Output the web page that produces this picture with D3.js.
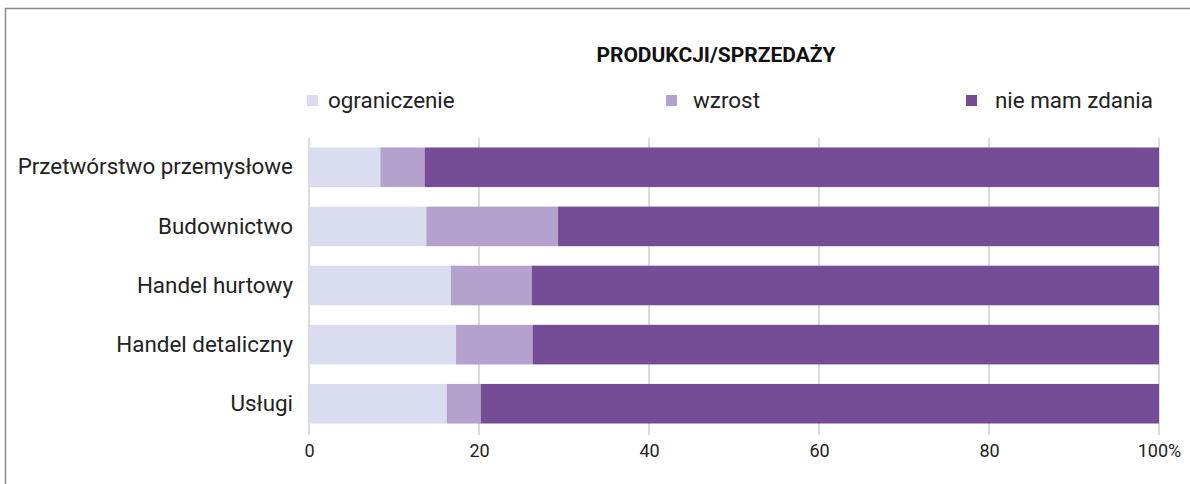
<!DOCTYPE html>
<html>
<head>
<meta charset="utf-8">
<script src="https://cdn.jsdelivr.net/npm/d3@7"></script>
<style>
  body { margin: 0; background: #fff; }
  svg { display: block; }
</style>
</head>
<body>
<svg id="chart"></svg>
<script>
var categories = ['Przetwórstwo przemysłowe', 'Budownictwo', 'Handel hurtowy', 'Handel detaliczny', 'Usługi'];
var seriesNames = ['ograniczenie', 'wzrost', 'nie mam zdania'];
var ograniczenie = [8.4, 13.8, 16.7, 17.3, 16.2];
var wzrost = [5.2, 15.5, 9.5, 9.0, 4.0];
var nieMamZdania = [86.4, 70.7, 73.8, 73.7, 79.8];
var xTicks = [0, 20, 40, 60, 80, 100];
var title = 'PRODUKCJI/SPRZEDAŻY';

var colors = ['#dadcf0', '#b4a1cd', '#754d97'];
var font = 'Roboto, "Noto Sans", sans-serif';

function drawChart() {
  var svgWidth = 1190, svgHeight = 484;
  var margin = { top: 138, right: 31, bottom: 51, left: 309 };
  var width = svgWidth - margin.left - margin.right;
  var height = svgHeight - margin.top - margin.bottom;

  var svg = d3.select('#chart')
    .attr('width', svgWidth)
    .attr('height', svgHeight);

  // frame (only top and left edges visible)
  svg.append('path')
    .attr('d', 'M5.5,' + svgHeight + 'V8.5H' + svgWidth)
    .attr('fill', 'none')
    .attr('stroke', '#8a8a8a')
    .attr('stroke-width', 1.5);

  var rows = categories.map(function(c, i) {
    return { cat: c, 'ograniczenie': ograniczenie[i], 'wzrost': wzrost[i], 'nie mam zdania': nieMamZdania[i] };
  });
  var stacked = d3.stack().keys(seriesNames)(rows);

  var x = d3.scaleLinear().domain([0, 100]).range([0, width]);
  var y = d3.scaleBand().domain(categories).range([0, height]).paddingInner(0.33).paddingOuter(0.16);

  var g = svg.append('g')
    .attr('transform', 'translate(' + margin.left + ',' + margin.top + ')');

  // grid lines
  g.append('g')
    .selectAll('line')
    .data(xTicks)
    .join('line')
    .attr('x1', function(d) { return x(d); })
    .attr('x2', function(d) { return x(d); })
    .attr('y1', 0)
    .attr('y2', height + 2)
    .attr('stroke', '#dcdcdc')
    .attr('stroke-width', 2);

  // bars
  g.append('g')
    .selectAll('g')
    .data(stacked)
    .join('g')
    .attr('fill', function(d, i) { return colors[i]; })
    .selectAll('rect')
    .data(function(d) { return d; })
    .join('rect')
    .attr('x', function(d) { return x(d[0]); })
    .attr('width', function(d) { return x(d[1]) - x(d[0]); })
    .attr('y', function(d) { return y(d.data.cat); })
    .attr('height', y.bandwidth());

  // x axis
  var xAxis = g.append('g')
    .attr('transform', 'translate(0,' + (height + 8) + ')')
    .call(d3.axisBottom(x).tickValues(xTicks).tickSize(0)
      .tickFormat(function(d) { return d === 100 ? '100%' : d; }));
  xAxis.select('.domain').remove();
  xAxis.selectAll('text')
    .attr('fill', '#222')
    .style('font-size', '18px')
    .style('font-family', font);

  // category labels
  var yAxis = g.append('g')
    .attr('transform', 'translate(-13,0)')
    .call(d3.axisLeft(y).tickSize(0));
  yAxis.select('.domain').remove();
  yAxis.selectAll('text')
    .attr('fill', '#222')
    .style('font-size', '22.4px')
    .style('font-family', font);

  // title
  svg.append('text')
    .attr('x', 716)
    .attr('y', 62)
    .attr('text-anchor', 'middle')
    .attr('fill', '#111')
    .style('font-size', '21px')
    .style('font-weight', 'bold')
    .style('font-family', font)
    .text(title);

  // legend
  var legendX = [307, 666, 966];
  var legendTextX = [21, 27, 29];
  var legend = svg.append('g')
    .selectAll('g')
    .data(seriesNames)
    .join('g')
    .attr('transform', function(d, i) { return 'translate(' + legendX[i] + ',95)'; });
  legend.append('rect')
    .attr('width', 11)
    .attr('height', 11)
    .attr('fill', function(d, i) { return colors[i]; });
  legend.append('text')
    .attr('x', function(d, i) { return legendTextX[i]; })
    .attr('y', 13)
    .attr('fill', '#222')
    .style('font-size', '22.4px')
    .style('font-family', font)
    .text(function(d) { return d; });
}

drawChart();
</script>
</body>
</html>
